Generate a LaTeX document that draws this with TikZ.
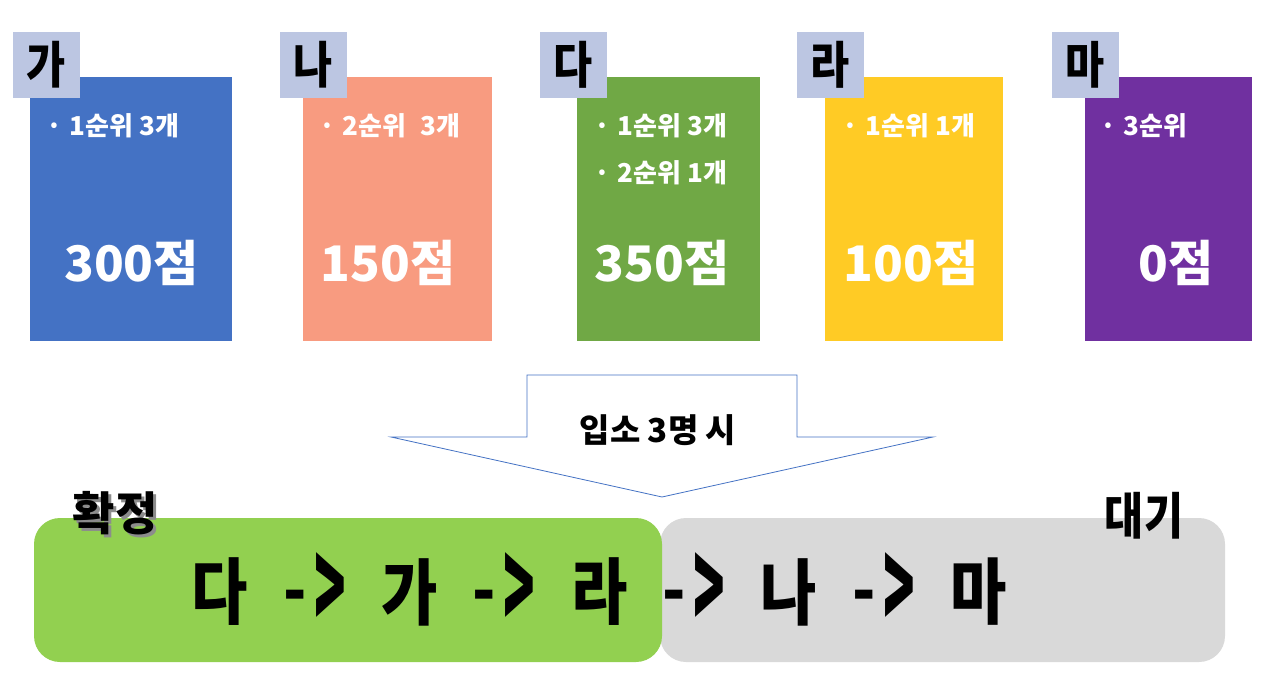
\documentclass[tikz,border=0pt]{standalone}
\usepackage{fontspec}
\usepackage{xcolor}
\usepackage{graphicx}
\usepackage{tikz}
\usetikzlibrary{positioning}

\newfontfamily\krfont{Noto Sans CJK KR Bold}
\newfontfamily\krheavy{Noto Sans CJK KR Black}
\newfontfamily\krnarrow[FakeStretch=0.85]{Noto Sans CJK KR Black}

\definecolor{tabblue}{HTML}{BCC6E2}
\definecolor{boxA}{HTML}{4472C4}
\definecolor{boxB}{HTML}{F89B80}
\definecolor{boxC}{HTML}{70A845}
\definecolor{boxD}{HTML}{FFCB25}
\definecolor{boxE}{HTML}{7030A0}
\definecolor{okgreen}{HTML}{92D050}
\definecolor{waitgray}{HTML}{D9D9D9}

\tikzset{
  cand/.style={rectangle, inner sep=0pt, minimum height=264},
  tab/.style={rectangle, fill=tabblue, inner sep=0pt, minimum width=67, minimum height=66,
    font=\krnarrow\fontsize{50}{50}\selectfont, text=black},
  item/.style={anchor=west, inner sep=0pt, text=white, font=\krheavy\fontsize{26}{26}\selectfont},
  score/.style={inner sep=0pt, text=white, font=\krheavy\fontsize{49}{49}\selectfont},
  seq/.style={inner sep=0pt, font=\krnarrow\fontsize{72}{72}\selectfont},
}
\newcommand{\nextarrow}{-\hspace{0.1em}\raisebox{-0.22em}{\scalebox{0.85}[1.7]{>}}}

\begin{document}
\begin{tikzpicture}[x=1pt, y=-1pt]
    \useasboundingbox (0,0) rectangle (1263,679);

    % 후보 상자
    \node[cand, fill=boxA, minimum width=202] (ga) at (131,209) {};
    \node[cand, fill=boxB, minimum width=189] (na) at (397.5,209) {};
    \node[cand, fill=boxC, minimum width=183] (da) at (668.5,209) {};
    \node[cand, fill=boxD, minimum width=178] (ra) at (914,209) {};
    \node[cand, fill=boxE, minimum width=167] (ma) at (1168.5,209) {};

    % 이름표
    \node[tab] (tga) at (46.5,65) {가};
    \node[tab] (tna) at (313,65) {나};
    \node[tab] (tda) at (573,65) {다};
    \node[tab] (tra) at (830,65) {라};
    \node[tab] (tma) at (1085,65) {마};

    % 순위 내역
    \node[item] (iga) at (46,126) {·\hspace{0.3em}1순위 3개};
    \node[item] (ina) at (319,126) {·\hspace{0.3em}2순위\hspace{0.3em} 3개};
    \node[item] (ida1) at (594,126) {·\hspace{0.3em}1순위 3개};
    \node[item] (ida2) at (594,173) {·\hspace{0.3em}2순위 1개};
    \node[item] (ira) at (842,126) {·\hspace{0.3em}1순위 1개};
    \node[item] (ima) at (1100,126) {·\hspace{0.3em}3순위};

    % 점수
    \node[score] (sga) at (131.5,263) {300점};
    \node[score] (sna) at (388,263) {150점};
    \node[score] (sda) at (662,263) {350점};
    \node[score] (sra) at (911,263) {100점};
    \node[score] (sma) at (1176,263) {0점};

    % 아래 화살표
    \draw[boxA, fill=white, line width=0.8pt]
        (527,375) -- (797,375) -- (797,437) -- (933,437) -- (662,497)
        -- (391,437) -- (527,437) -- cycle;
    \node[font=\krheavy\fontsize{33}{33}\selectfont] (cond) at (658,430) {입소 3명 시};

    % 확정 / 대기
    \fill[waitgray, rounded corners=26] (660,518) rectangle (1225,662);
    \fill[okgreen, rounded corners=26] (34,518) rectangle (662,662);
    \node[text=black!45, font=\krheavy\fontsize{46}{46}\selectfont] at (118,516) {확정};
    \node[font=\krheavy\fontsize{46}{46}\selectfont] (fix) at (115,513) {확정};
    \node[font=\krnarrow\fontsize{50}{50}\selectfont] (wait) at (1144,516) {대기};

    % 순서
    \node[seq] (o1) at (220,592) {다};
    \node[seq] (a1) at (315,592) {\nextarrow};
    \node[seq] (o2) at (410,592) {가};
    \node[seq] (a2) at (504,592) {\nextarrow};
    \node[seq] (o3) at (600,592) {라};
    \node[seq] (a3) at (694,592) {\nextarrow};
    \node[seq] (o4) at (789,592) {나};
    \node[seq] (a4) at (884,592) {\nextarrow};
    \node[seq] (o5) at (979,592) {마};
\end{tikzpicture}
\end{document}
